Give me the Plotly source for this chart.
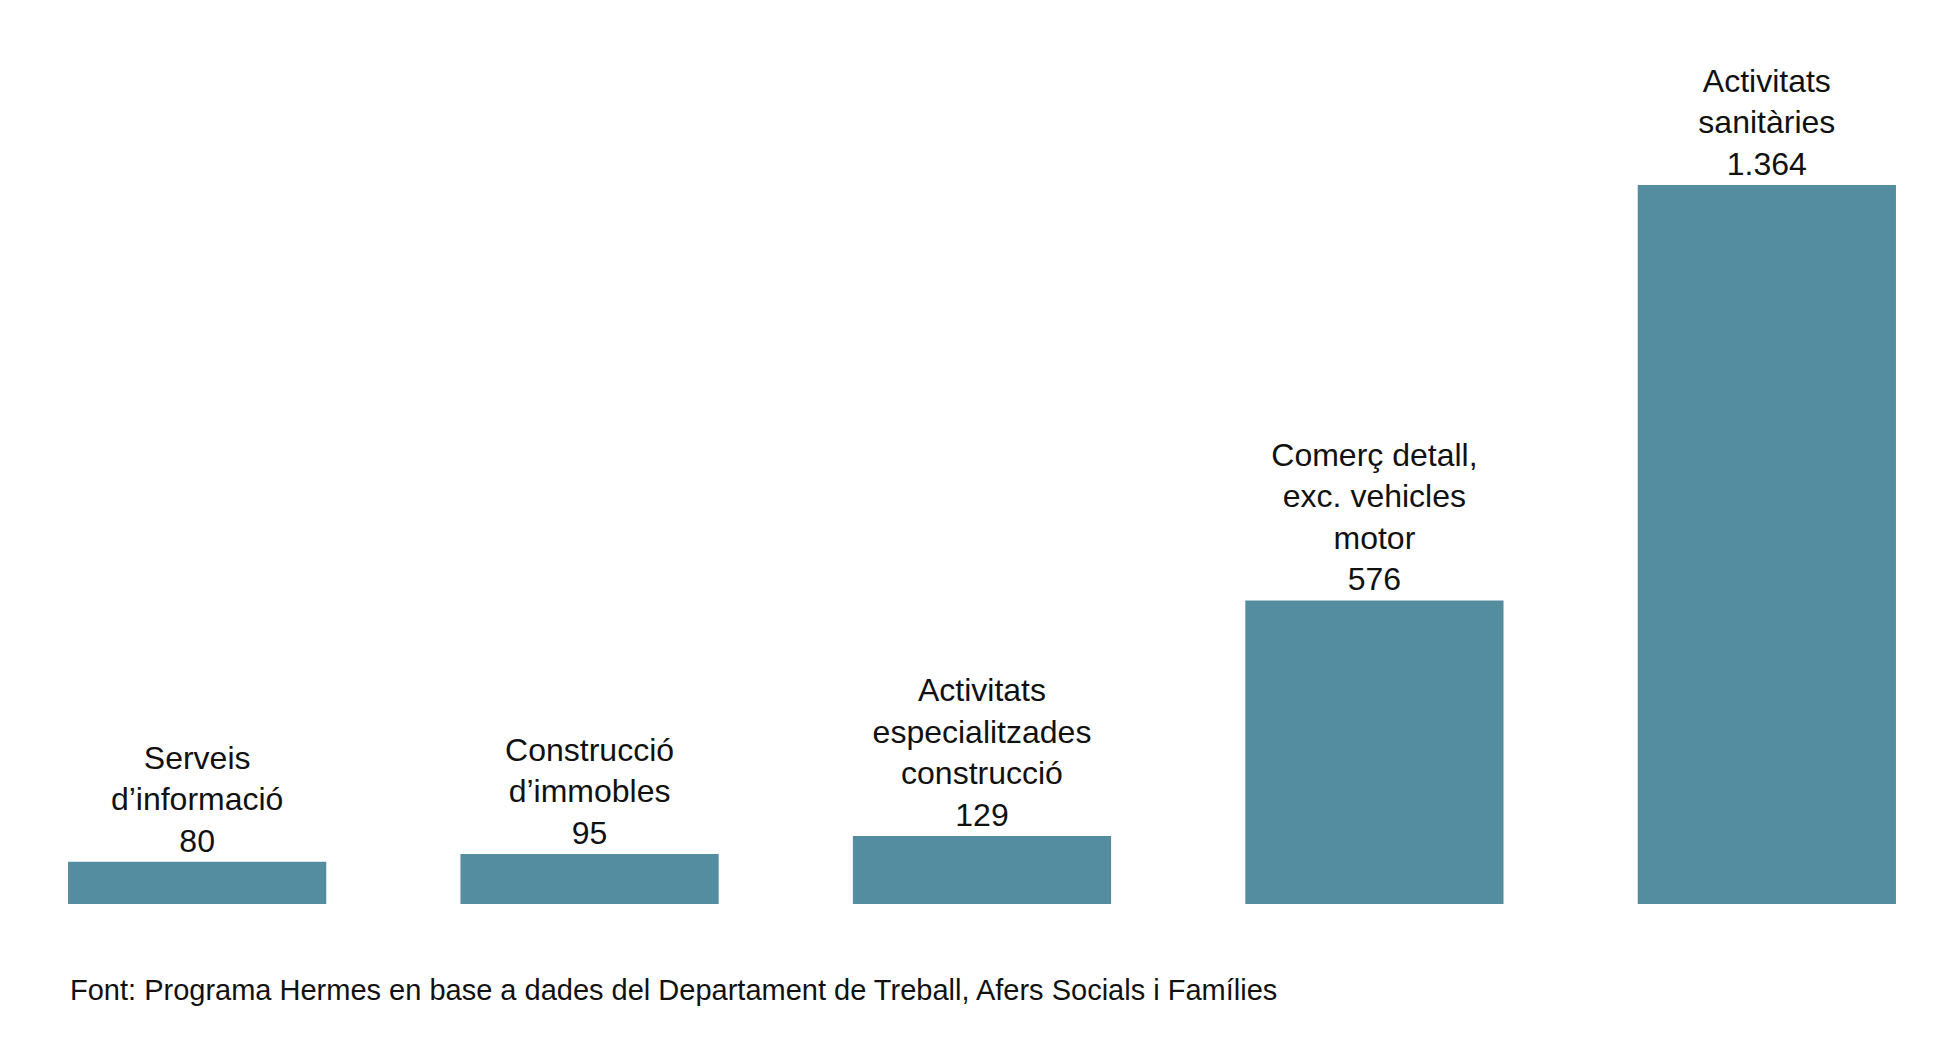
import plotly.graph_objects as go

categories = ["Serveis<br>d’informació", "Construcció<br>d’immobles",
              "Activitats<br>especialitzades<br>construcció",
              "Comerç detall,<br>exc. vehicles<br>motor", "Activitats<br>sanitàries"]
values = [80, 95, 129, 576, 1364]
value_labels = ["80", "95", "129", "576", "1.364"]

BAR = "#548ca0"

fig = go.Figure(go.Bar(
    x=list(range(len(values))), y=values,
    marker=dict(color=BAR, line=dict(width=0)),
    text=[f"{c}<br>{v}" for c, v in zip(categories, value_labels)],
    textposition="outside", cliponaxis=False,
    textfont=dict(family="Liberation Sans, Arial", size=32, color="#111"),
    hoverinfo="skip",
))

fig.update_layout(
    width=1937, height=1063, plot_bgcolor="white", paper_bgcolor="white",
    margin=dict(l=0, r=0, t=177, b=167),
    bargap=0.342, showlegend=False,
    xaxis=dict(visible=False, range=[-0.482, 4.454]),
    yaxis=dict(visible=False, range=[0, 1364]),
    annotations=[dict(
        text="Font: Programa Hermes en base a dades del Departament de Treball, Afers Socials i Famílies",
        xref="paper", yref="paper", x=60 / 1937, y=-0.095, xanchor="left", yanchor="top",
        showarrow=False, font=dict(family="Liberation Sans, Arial", size=29, color="#111"),
    )],
)

fig.write_html("out.html")
